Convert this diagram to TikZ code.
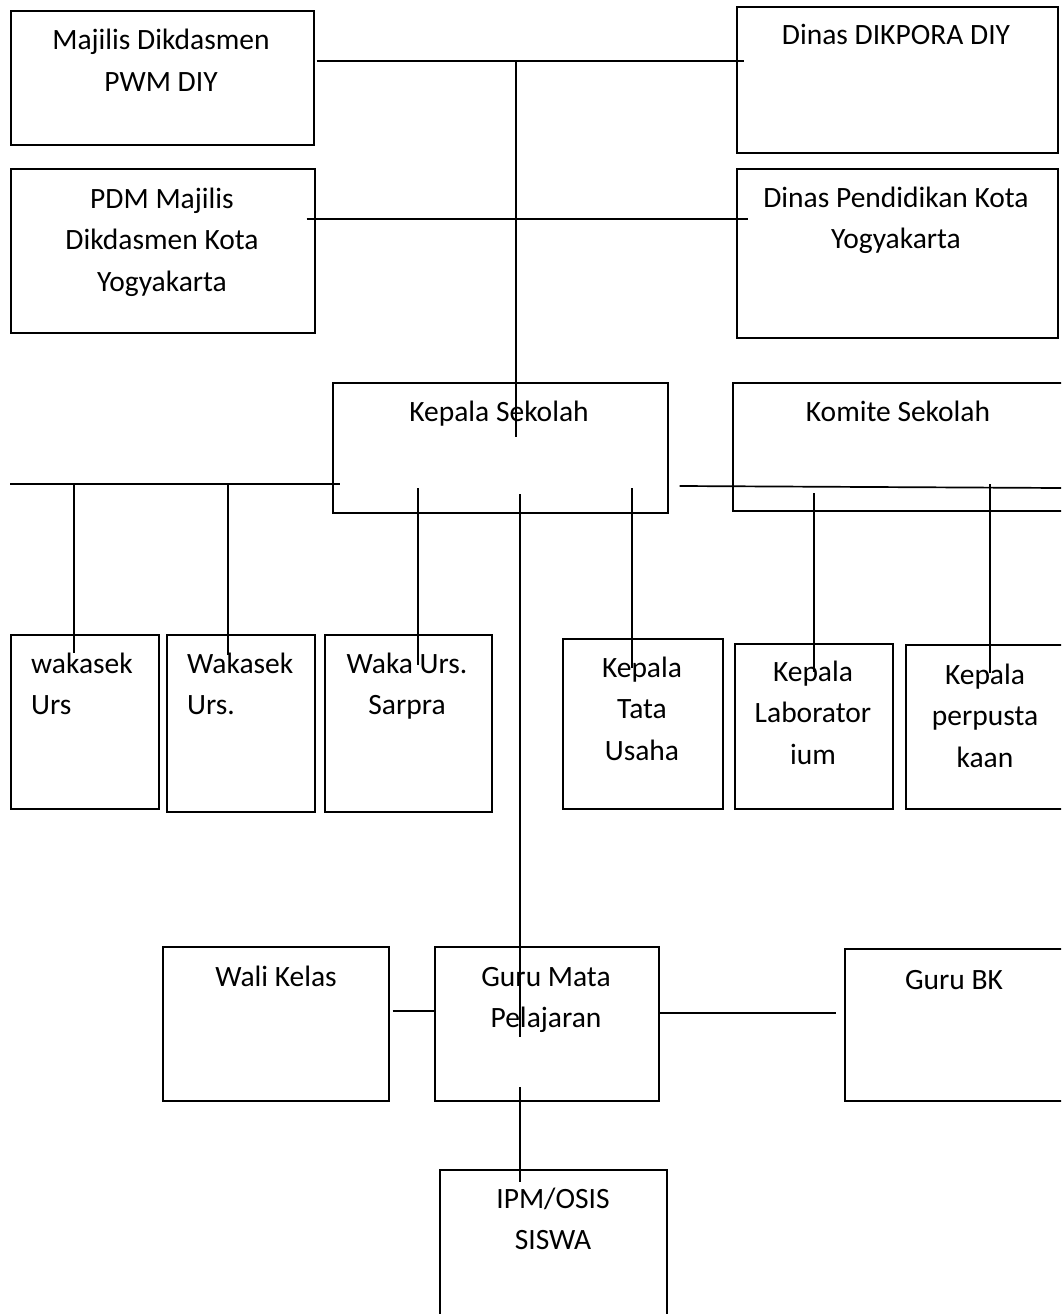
\documentclass[tikz,border=0pt]{standalone}
\usepackage{fontspec}
\setmainfont{Carlito}
\tikzset{
  orgbox/.style={draw, line width=1.7pt, inner sep=0pt, anchor=north west},
  lbl/.style={align=center, inner sep=0pt, anchor=base, font=\fontsize{29.5}{41.5}\selectfont},
  conn/.style={line width=1.7pt}
}
\begin{document}
\begin{tikzpicture}[x=1pt, y=-1pt]
  \clip (0,0) rectangle (1061,1314);

  % boxes
  \node[orgbox, minimum width=303, minimum height=134] (majilis) at (10,10) {};
  \node[orgbox, minimum width=304, minimum height=164] (pdm) at (10,168) {};
  \node[orgbox, minimum width=321, minimum height=146] (dikpora) at (736,6) {};
  \node[orgbox, minimum width=321, minimum height=169] (diskota) at (736,168) {};
  \node[orgbox, minimum width=335, minimum height=130] (kepsek) at (332,382) {};
  \node[orgbox, minimum width=340, minimum height=128] (komite) at (732,382) {};
  \node[orgbox, minimum width=148, minimum height=174] (waka1) at (10,634) {};
  \node[orgbox, minimum width=148, minimum height=177] (waka2) at (166,634) {};
  \node[orgbox, minimum width=167, minimum height=177] (sarpra) at (324,634) {};
  \node[orgbox, minimum width=160, minimum height=170] (tu) at (562,638) {};
  \node[orgbox, minimum width=158, minimum height=165] (lab) at (734,643) {};
  \node[orgbox, minimum width=160, minimum height=164] (perpus) at (905,644) {};
  \node[orgbox, minimum width=226, minimum height=154] (wali) at (162,946) {};
  \node[orgbox, minimum width=224, minimum height=154] (guru) at (434,946) {};
  \node[orgbox, minimum width=222, minimum height=152] (bk) at (844,948) {};
  \node[orgbox, minimum width=227, minimum height=200] (ipm) at (439,1169) {};

  % texts (base = last line)
  \node[lbl] (majilisT) at (161,91) {Majilis Dikdasmen\\PWM DIY};
  \node[lbl] (pdmT) at (162,291) {PDM Majilis\\Dikdasmen Kota\\Yogyakarta};
  \node[lbl] (dikporaT) at (896,45) {Dinas DIKPORA DIY};
  \node[lbl] (diskotaT) at (896,248.5) {Dinas Pendidikan Kota\\Yogyakarta};
  \node[lbl] (kepsekT) at (499,421) {Kepala Sekolah};
  \node[lbl] (komiteT) at (898,421) {Komite Sekolah};
  \node[lbl, align=left, anchor=base west] (waka1T) at (31,714.5) {wakasek\\Urs};
  \node[lbl, align=left, anchor=base west] (waka2T) at (187,714.5) {Wakasek\\Urs.};
  \node[lbl] (sarpraT) at (407,714.5) {Waka Urs.\\Sarpra};
  \node[lbl] (tuT) at (642,760) {Kepala\\Tata\\Usaha};
  \node[lbl] (labT) at (813,764) {Kepala\\Laborator\\ium};
  \node[lbl] (perpusT) at (985,767) {Kepala\\perpusta\\kaan};
  \node[lbl] (waliT) at (276,986) {Wali Kelas};
  \node[lbl] (guruT) at (546,1027.5) {Guru Mata\\Pelajaran};
  \node[lbl] (bkT) at (954,989) {Guru BK};
  \node[lbl] (ipmT) at (553,1249.5) {IPM/OSIS\\SISWA};

  % junctions
  \coordinate (top) at (516,61);
  \coordinate (mid) at (516,219);
  \coordinate (kepsekIn) at (516,437);
  \coordinate (leftEnd) at (10,484);
  \coordinate (rightEnd) at (1061,488);

  % connectors
  \draw[conn] ([xshift=2]majilis.east |- top) -- ([xshift=8]dikpora.west |- top);
  \draw[conn] ([xshift=-9]pdm.east |- mid) -- ([xshift=12]diskota.west |- mid);
  \draw[conn] (top) -- (kepsekIn);
  \draw[conn] (leftEnd) -- ([xshift=8]kepsek.west |- leftEnd);
  \draw[conn] (74,484) -- (74,653);
  \draw[conn] (228,484) -- (228,655);
  \draw[conn] (418,488) -- (418,665);
  \draw[conn] (520,494) -- (520,1037);
  \draw[conn] (632,488) -- (632,668);
  \draw[conn] ([xshift=11]kepsek.east |- 0,486) -- (rightEnd);
  \draw[conn] (814,493) -- (814,672);
  \draw[conn] (990,484) -- (990,673);
  \draw[conn] ([xshift=3]wali.east |- 0,1011) -- (guru.west |- 0,1011);
  \draw[conn] (guru.east |- 0,1013) -- ([xshift=-8]bk.west |- 0,1013);
  \draw[conn] (520,1087) -- (520,1182);
\end{tikzpicture}
\end{document}
